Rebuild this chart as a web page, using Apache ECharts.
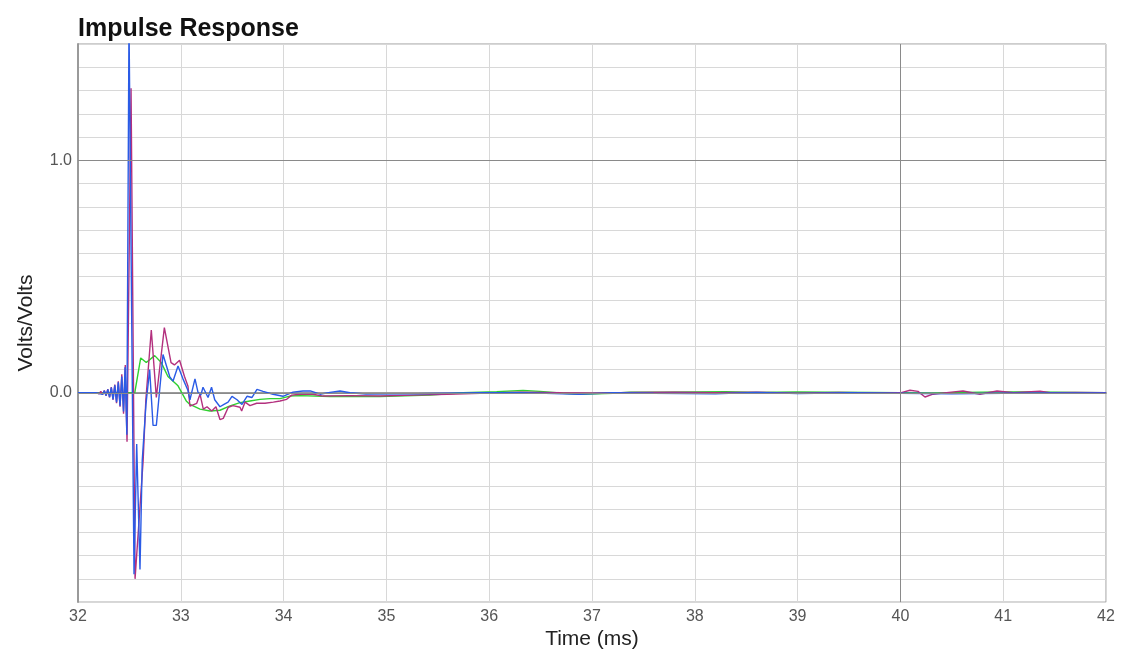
<!DOCTYPE html>
<html>
<head>
<meta charset="utf-8">
<title>Impulse Response</title>
<script src="https://cdn.jsdelivr.net/npm/echarts@6/dist/echarts.min.js"></script>
<style>
  html, body { margin: 0; padding: 0; background: #ffffff; }
  #chart { width: 1124px; height: 655px; }
</style>
</head>
<body>
<div id="chart"></div>
<script>
// Time axis ticks (ms) and the two labelled volt levels
const timeTicks = [32, 33, 34, 35, 36, 37, 38, 39, 40, 41, 42];
const voltLabels = [0, 1];

// Magenta trace
const magentaTime = [32.00, 32.18, 32.188, 32.205, 32.222, 32.239, 32.256, 32.273, 32.290, 32.307, 32.324, 32.341,
  32.358, 32.375, 32.392, 32.409, 32.426, 32.443, 32.460, 32.477, 32.516, 32.555, 32.634, 32.660, 32.713, 32.762,
  32.840, 32.905, 32.938, 32.988, 33.036, 33.070, 33.089, 33.155, 33.187, 33.219, 33.255, 33.301, 33.342, 33.381,
  33.413, 33.462, 33.508, 33.576, 33.592, 33.625, 33.673, 33.738, 33.819, 33.900, 33.965, 34.030, 34.079, 34.160,
  34.286, 34.383, 34.646, 34.938, 35.259, 35.590, 35.911, 36.30, 36.70, 37.00, 37.40, 37.80, 38.20, 38.60, 39.00,
  39.40, 39.80, 40.000, 40.093, 40.171, 40.239, 40.317, 40.450, 40.609, 40.774, 40.940, 41.100, 41.358, 41.455,
  41.700, 42.00];
const magentaVolts = [0, 0, 0.003, -0.004, 0.006, -0.008, 0.010, -0.013, 0.016, -0.020, 0.025, -0.030,
  0.035, -0.045, 0.050, -0.060, 0.080, -0.090, 0.120, -0.210, 1.310, -0.800, -0.290, -0.030, 0.270, -0.020,
  0.280, 0.130, 0.120, 0.140, 0.070, 0.028, -0.057, -0.045, -0.006, -0.070, -0.060, -0.078, -0.060, -0.115,
  -0.110, -0.062, -0.055, -0.062, -0.078, -0.040, -0.055, -0.045, -0.045, -0.040, -0.035, -0.028, -0.010, -0.006,
  -0.006, -0.014, -0.012, -0.014, -0.010, -0.006, -0.002, 0.003, 0.000, -0.002, 0.002, 0.003, 0.001, 0.003, -0.002,
  0.002, -0.001, 0.000, 0.011, 0.006, -0.018, -0.006, 0.001, 0.008, -0.006, 0.008, 0.000, 0.007, 0.000,
  0.002, 0.000];

// Green trace
const greenTime = [32.00, 32.552, 32.610, 32.664, 32.746, 32.810, 32.875, 32.973, 33.053, 33.089, 33.187, 33.284,
  33.381, 33.479, 33.576, 33.673, 33.770, 33.868, 33.965, 34.062, 34.160, 34.451, 34.938, 35.424, 35.745, 36.073,
  36.329, 36.494, 36.718, 36.883, 37.204, 37.370, 37.690, 38.00, 38.30, 38.60, 39.00, 39.30, 39.70, 40.00, 40.30,
  40.60, 41.00, 41.30, 41.70, 42.00];
const greenVolts = [0, 0, 0.150, 0.130, 0.160, 0.130, 0.070, 0.030, -0.035, -0.050, -0.070, -0.078,
  -0.075, -0.056, -0.042, -0.035, -0.028, -0.025, -0.025, -0.014, -0.012, -0.016, -0.016, -0.010, 0.000, 0.005,
  0.010, 0.006, -0.002, -0.006, -0.002, 0.003, 0.003, 0.004, 0.005, 0.002, 0.004, 0.003, 0.002, 0.000, -0.002,
  0.002, 0.004, 0.004, 0.002, 0.000];

// Blue trace
const blueTime = [32.00, 32.18, 32.188, 32.205, 32.222, 32.239, 32.256, 32.273, 32.290, 32.307, 32.324, 32.341,
  32.358, 32.375, 32.392, 32.409, 32.426, 32.443, 32.458, 32.475, 32.496, 32.545, 32.571, 32.603, 32.625, 32.661,
  32.697, 32.730, 32.762, 32.827, 32.846, 32.892, 32.924, 32.973, 33.021, 33.070, 33.089, 33.138, 33.167, 33.195,
  33.216, 33.265, 33.299, 33.330, 33.381, 33.420, 33.460, 33.498, 33.547, 33.595, 33.644, 33.693, 33.741, 33.800,
  33.897, 33.994, 34.091, 34.189, 34.260, 34.354, 34.451, 34.549, 34.646, 34.800, 35.300, 35.900, 36.300, 36.880,
  37.200, 37.600, 38.200, 38.600, 39.000, 39.500, 40.000, 40.500, 41.000, 41.500, 42.000];
const blueVolts = [0, 0, 0.002, -0.003, 0.005, -0.007, 0.009, -0.012, 0.015, -0.018, 0.022, -0.028,
  0.032, -0.040, 0.045, -0.055, 0.070, -0.080, 0.110, -0.180, 1.600, -0.780, -0.220, -0.760, -0.290, -0.050,
  0.100, -0.140, -0.140, 0.165, 0.160, 0.070, 0.050, 0.115, 0.060, 0.010, -0.030, 0.060, 0.003, -0.010,
  0.024, -0.020, 0.024, -0.030, -0.060, -0.050, -0.040, -0.015, -0.030, -0.050, -0.015, -0.020, 0.015, 0.006,
  -0.006, -0.015, 0.003, 0.008, 0.008, -0.006, 0.002, 0.008, 0.000, -0.005, -0.004, 0.000, 0.001, -0.006,
  0.000, -0.002, -0.004, 0.002, -0.003, 0.000, -0.002, -0.004, -0.002, -0.001, -0.001];

const zip = (xs, ys) => xs.map((x, i) => [x, ys[i]]);

const chart = echarts.init(document.getElementById('chart'), null, { renderer: 'canvas' });

const labelFont = '"Liberation Sans", Arial, Helvetica, sans-serif';

chart.setOption({
  animation: false,
  backgroundColor: '#ffffff',
  title: {
    text: 'Impulse Response',
    left: 78,
    top: 17,
    padding: 0,
    textStyle: { fontFamily: labelFont, fontSize: 25, fontWeight: 'bold', color: '#111111' }
  },
  grid: {
    left: 78, right: 18, top: 44, bottom: 52,
    show: true, borderColor: '#9a9a9a', borderWidth: 1, backgroundColor: 'transparent'
  },
  xAxis: {
    type: 'value',
    min: timeTicks[0],
    max: timeTicks[timeTicks.length - 1],
    interval: 1,
    name: 'Time (ms)',
    nameLocation: 'middle',
    nameGap: 25,
    nameTextStyle: { fontFamily: labelFont, fontSize: 21, color: '#222222' },
    axisLine: { show: true, lineStyle: { color: '#9a9a9a', width: 2 } },
    axisTick: { show: false },
    axisLabel: { fontFamily: labelFont, fontSize: 16, color: '#555555', margin: 6 },
    splitLine: { show: true, lineStyle: { color: '#d8d8d8', width: 1 } }
  },
  yAxis: {
    type: 'value',
    min: -0.9,
    max: 1.5,
    interval: 0.1,
    name: 'Volts/Volts',
    nameLocation: 'middle',
    nameGap: 41,
    nameTextStyle: { fontFamily: labelFont, fontSize: 21, color: '#222222' },
    axisLine: { show: true, lineStyle: { color: '#9a9a9a', width: 2 } },
    axisTick: { show: false },
    axisLabel: {
      fontFamily: labelFont, fontSize: 16, color: '#555555', margin: 6,
      formatter: v => voltLabels.some(l => Math.abs(v - l) < 1e-6) ? v.toFixed(1) : ''
    },
    splitLine: { show: true, lineStyle: { color: '#d8d8d8', width: 1 } }
  },
  series: [
    {
      // reference lines at 0 V, 1 V and 40 ms
      type: 'line',
      data: [],
      silent: true,
      markLine: {
        silent: true,
        symbol: ['none', 'none'],
        label: { show: false },
        lineStyle: { color: '#8a8a8a', width: 1, type: 'solid' },
        data: [{ yAxis: voltLabels[0] }, { yAxis: voltLabels[1] }, { xAxis: 40 }]
      }
    },
    {
      name: 'Green',
      type: 'line',
      data: zip(greenTime, greenVolts),
      showSymbol: false,
      symbol: 'none',
      lineStyle: { color: '#2fd02f', width: 1.4 },
      clip: true
    },
    {
      name: 'Magenta',
      type: 'line',
      data: zip(magentaTime, magentaVolts),
      showSymbol: false,
      symbol: 'none',
      lineStyle: { color: '#b3307e', width: 1.4 },
      clip: true
    },
    {
      name: 'Blue',
      type: 'line',
      data: zip(blueTime, blueVolts),
      showSymbol: false,
      symbol: 'none',
      lineStyle: { color: '#2a5be6', width: 1.4 },
      clip: true
    }
  ]
});
</script>
</body>
</html>
